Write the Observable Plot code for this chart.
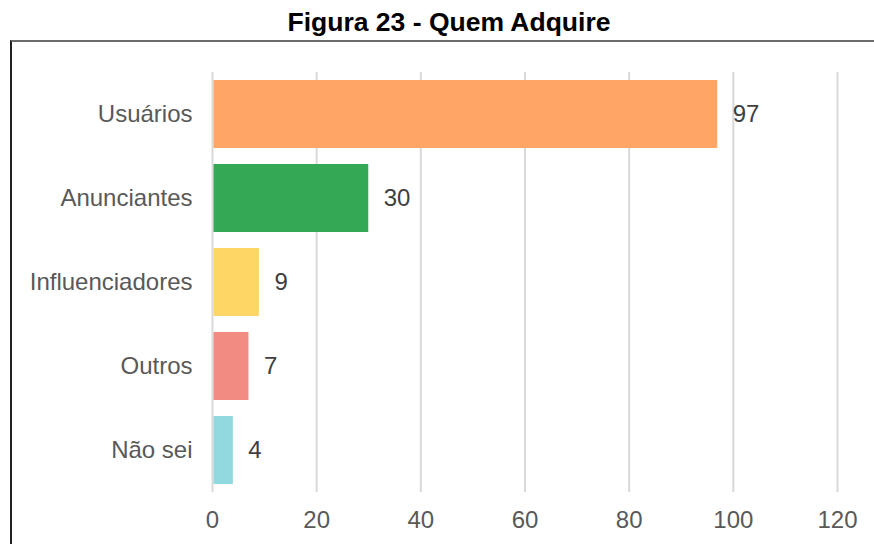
<!DOCTYPE html>
<html>
<head>
<meta charset="utf-8">
<script src="https://cdn.jsdelivr.net/npm/d3@7"></script>
<script src="https://cdn.jsdelivr.net/npm/@observablehq/plot@0.6"></script>
<style>
  html, body { margin: 0; padding: 0; background: #fff; }
  body { width: 874px; height: 544px; overflow: hidden; position: relative; font-family: "Liberation Sans", Arial, sans-serif; }
  #title { height: 41px; text-align: center; font-weight: bold; font-size: 26.5px; line-height: 44px; color: #000; margin-left: 24px; }
  #box { position: absolute; left: 10px; top: 40px; width: 880px; height: 520px; border-top: 2px solid #6b6b6b; border-left: 2px solid #222; box-sizing: border-box; }
  #chart { position: absolute; left: 0; top: 41px; }
</style>
</head>
<body>
<div id="title">Figura 23 - Quem Adquire</div>
<div id="box"></div>
<div id="chart"></div>
<script>
const categories = ["Usuários", "Anunciantes", "Influenciadores", "Outros", "Não sei"];
const values = [97, 30, 9, 7, 4];
const colors = ["#FFA666", "#34A853", "#FDD666", "#F28B82", "#91D8DF"];
const xTicks = [0, 20, 40, 60, 80, 100, 120];

const data = categories.map((c, i) => ({category: c, value: values[i], color: colors[i]}));

const chart = Plot.plot({
  width: 874,
  height: 503,
  marginTop: 31,
  marginBottom: 52,
  marginLeft: 212,
  marginRight: 37,
  style: {fontFamily: "'Liberation Sans', Arial, sans-serif", background: "transparent"},
  x: {domain: [0, 120], ticks: xTicks},
  y: {domain: categories, paddingInner: 0.19, paddingOuter: 0.095},
  marks: [
    Plot.ruleX(xTicks, {stroke: "#d9d9d9", strokeWidth: 2}),
    Plot.barX(data, {y: "category", x: "value", fill: "color", insetLeft: 1.5}),
    Plot.text(data, {y: "category", x: "value", text: d => String(d.value), textAnchor: "start", dx: 15, fill: "#404040", fontSize: 24}),
    Plot.axisX({ticks: xTicks, tickSize: 0, tickPadding: 18, fontSize: 24, color: "#595959", label: null}),
    Plot.axisY({tickSize: 0, tickPadding: 20, fontSize: 24, color: "#595959", label: null})
  ]
});
document.getElementById("chart").appendChild(chart);
</script>
</body>
</html>
